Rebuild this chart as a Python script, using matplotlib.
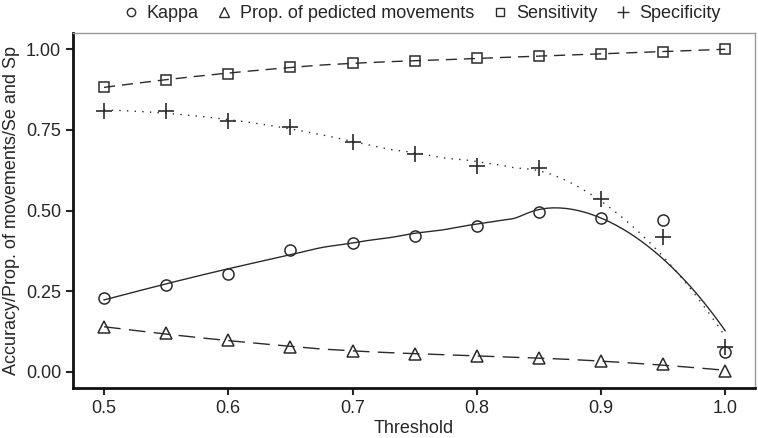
import numpy as np
import matplotlib
matplotlib.use('Agg')
import matplotlib.pyplot as plt
from matplotlib.lines import Line2D

# ------------------------------ Data -----------------------------------
threshold = [0.5, 0.55, 0.6, 0.65, 0.7, 0.75, 0.8, 0.85, 0.9, 0.95, 1.0]
kappa = [0.228, 0.268, 0.304, 0.379, 0.399, 0.421, 0.453, 0.496, 0.477, 0.472, 0.063]
prop_moves = [0.138, 0.120, 0.099, 0.076, 0.066, 0.056, 0.050, 0.042, 0.034, 0.024, 0.003]
sensitivity = [0.883, 0.903, 0.924, 0.946, 0.956, 0.963, 0.971, 0.979, 0.985, 0.992, 1.000]
specificity = [0.809, 0.807, 0.778, 0.760, 0.712, 0.674, 0.639, 0.632, 0.536, 0.417, 0.076]

y_ticks = [0.0, 0.25, 0.5, 0.75, 1.0]
x_ticks = [0.5, 0.6, 0.7, 0.8, 0.9, 1.0]


# ------------------------------ Loess smoother -----------------------------------
# local quadratic fit with tricube weights (same idea as R's loess, span 0.75)
def loess(x, y, grid, span=0.75):
    x = np.asarray(x, float)
    y = np.asarray(y, float)
    n = len(x)
    q = int(np.floor(span * n))
    out = []
    for x0 in grid:
        d = np.abs(x - x0)
        dmax = np.sort(d)[q - 1] * 1.0001
        w = np.clip(1 - (d / dmax) ** 3, 0, None) ** 3
        A = np.vstack([np.ones(n), x - x0, (x - x0) ** 2]).T
        W = np.diag(w)
        beta = np.linalg.lstsq(A.T @ W @ A, A.T @ W @ y, rcond=None)[0]
        out.append(beta[0])
    return np.array(out)


plt.rcParams['font.family'] = ['Liberation Sans', 'DejaVu Sans']
col = '#2b2b2b'
txt = '#262626'

fig = plt.figure(figsize=(7.58, 4.38), dpi=100)
ax = fig.add_axes([73 / 758, 1 - 388 / 438, (755 - 73) / 758, (388 - 33) / 438])

grid = np.linspace(0.5, 1.0, 200)

ax.plot(grid, loess(threshold, kappa, grid), color=col, lw=1.0, ls='-')
ax.plot(grid, loess(threshold, prop_moves, grid), color=col, lw=1.0, ls=(0, (12, 6)))
ax.plot(grid, loess(threshold, sensitivity, grid), color=col, lw=1.0, ls=(0, (8, 5)))
ax.plot(grid, loess(threshold, specificity, grid), color=col, lw=1.0, ls=(0, (1, 4.5)))

ms = 8
ax.plot(threshold, kappa, 'o', mfc='none', mec=col, ms=ms, mew=1.1)
ax.plot(threshold, prop_moves, '^', mfc='none', mec=col, ms=ms + 1, mew=1.1)
ax.plot(threshold, sensitivity, 's', mfc='none', mec=col, ms=ms - 0.5, mew=1.1)
ax.plot(threshold, specificity, '+', color=col, ms=ms + 3, mew=1.2)

ax.set_xlim(0.475, 1.024)
ax.set_ylim(-0.05, 1.05)
ax.set_xticks(x_ticks)
ax.set_xticklabels([f'{t:.1f}' for t in x_ticks])
ax.set_yticks(y_ticks)
ax.set_yticklabels([f'{t:.2f}' for t in y_ticks])
ax.tick_params(direction='out', length=5, width=1.5, labelsize=13, colors=txt)

for s in ['left', 'bottom']:
    ax.spines[s].set_linewidth(2.0)
    ax.spines[s].set_color('#111111')
for s in ['top', 'right']:
    ax.spines[s].set_linewidth(1.0)
    ax.spines[s].set_color('#999999')

ax.set_xlabel('Threshold', fontsize=13, labelpad=2, color=txt)
ax.set_ylabel('Accuracy/Prop. of movements/Se and Sp', fontsize=13, labelpad=4, color=txt)

handles = [
    Line2D([], [], marker='o', ls='none', mfc='none', mec=col, ms=6, mew=1.0),
    Line2D([], [], marker='^', ls='none', mfc='none', mec=col, ms=7, mew=1.0),
    Line2D([], [], marker='s', ls='none', mfc='none', mec=col, ms=6, mew=1.0),
    Line2D([], [], marker='+', ls='none', color=col, ms=9, mew=1.0),
]
labels = ['Kappa', 'Prop. of pedicted movements', 'Sensitivity', 'Specificity']
leg = fig.legend(handles, labels, loc='center', bbox_to_anchor=(422 / 758, 1 - 14 / 438),
                 ncol=4, frameon=False, fontsize=13, handlelength=0.8, handletextpad=0.5,
                 columnspacing=1.0, borderaxespad=0)
for t in leg.get_texts():
    t.set_color(txt)

fig.savefig('out.png', dpi=100)
